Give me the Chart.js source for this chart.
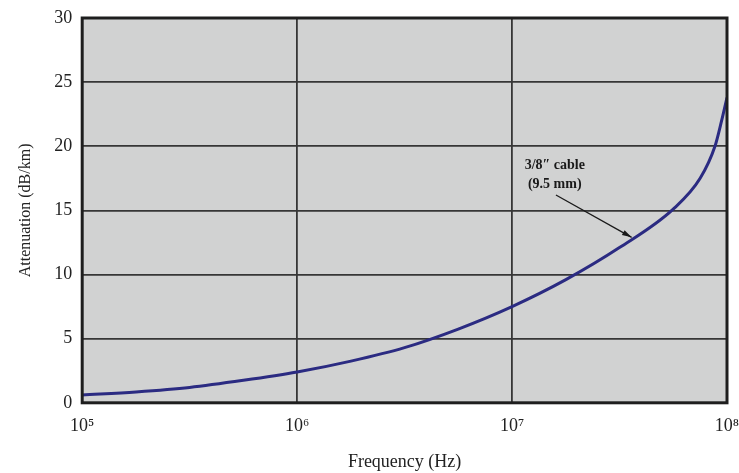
<!DOCTYPE html>
<html>
<head>
<meta charset="utf-8">
<script src="https://cdn.jsdelivr.net/npm/chart.js@4.4.1/dist/chart.umd.min.js"></script>
<style>
  html, body { margin: 0; padding: 0; background: #fff; }
  #wrap { width: 739px; height: 473px; }
</style>
</head>
<body>
<div id="wrap"><canvas id="canvasid"></canvas></div>
<script>
// curve: frequency (Hz) and attenuation (dB/km)
const freq = [1e5, 1.78e5, 3.16e5, 5.62e5, 1e6, 1.78e6, 3.16e6, 5.62e6, 1e7, 1.78e7, 3.16e7, 5.62e7, 7.5e7, 8.79e7, 9.44e7, 1e8];
const atten = [0.6, 0.85, 1.2, 1.75, 2.4, 3.25, 4.3, 5.75, 7.5, 9.6, 12.1, 15.1, 17.5, 20.0, 22.0, 23.8];

const xTicks = [1e5, 1e6, 1e7, 1e8];
const xTickLabels = ["10⁵", "10⁶", "10⁷", "10⁸"];
const yTicks = [0, 5, 10, 15, 20, 25, 30];

const labelLines = ["3/8\u2033 cable", "(9.5 mm)"];
const labelAt = { x: 1.58e7, y: [18.5, 17.0] };
const arrowFrom = { x: 1.6e7, y: 16.2 };
const arrowTo = { x: 3.6e7, y: 12.9 };

const serif = "'Liberation Serif', 'DejaVu Serif', serif";

const framePlugin = {
  id: "frame",
  beforeDraw(chart) {
    const { ctx, chartArea: a } = chart;
    ctx.save();
    ctx.fillStyle = "#d1d2d2";
    ctx.fillRect(a.left, a.top, a.right - a.left, a.bottom - a.top);
    ctx.restore();
  },
  afterDraw(chart) {
    const { ctx, chartArea: a, scales } = chart;
    ctx.save();
    ctx.strokeStyle = "#1e1e1e";
    ctx.lineWidth = 3;
    ctx.strokeRect(a.left, a.top, a.right - a.left, a.bottom - a.top);

    // annotation
    ctx.fillStyle = "#1a1a1a";
    ctx.font = "bold 14px " + serif;
    ctx.textAlign = "center";
    ctx.textBaseline = "middle";
    const lx = scales.x.getPixelForValue(labelAt.x);
    labelLines.forEach((t, i) => ctx.fillText(t, lx, scales.y.getPixelForValue(labelAt.y[i])));

    const x0 = scales.x.getPixelForValue(arrowFrom.x), y0 = scales.y.getPixelForValue(arrowFrom.y);
    const x1 = scales.x.getPixelForValue(arrowTo.x), y1 = scales.y.getPixelForValue(arrowTo.y);
    ctx.strokeStyle = "#1a1a1a";
    ctx.lineWidth = 1.3;
    ctx.beginPath();
    ctx.moveTo(x0, y0);
    ctx.lineTo(x1, y1);
    ctx.stroke();
    const ang = Math.atan2(y1 - y0, x1 - x0);
    ctx.beginPath();
    ctx.moveTo(x1, y1);
    ctx.lineTo(x1 - 10 * Math.cos(ang - 0.28), y1 - 10 * Math.sin(ang - 0.28));
    ctx.lineTo(x1 - 10 * Math.cos(ang + 0.28), y1 - 10 * Math.sin(ang + 0.28));
    ctx.closePath();
    ctx.fill();
    ctx.restore();
  }
};

new Chart(document.getElementById("canvasid"), {
  type: "scatter",
  data: {
    datasets: [{
      data: freq.map((f, i) => ({ x: f, y: atten[i] })),
      showLine: true,
      borderColor: "#2b2b82",
      borderWidth: 3,
      pointRadius: 0,
      cubicInterpolationMode: "monotone"
    }]
  },
  options: {
    responsive: true,
    maintainAspectRatio: false,
    animation: false,
    layout: { padding: { top: 18, right: 12, left: 16, bottom: 0 } },
    plugins: { legend: { display: false }, tooltip: { enabled: false } },
    scales: {
      x: {
        type: "logarithmic",
        min: 1e5,
        max: 1e8,
        afterBuildTicks: s => { s.ticks = xTicks.map(v => ({ value: v })); },
        afterFit: s => { s.paddingRight = 0; s.paddingLeft = 0; },
        ticks: {
          autoSkip: false,
          maxRotation: 0,
          padding: 13,
          color: "#222",
          font: { family: serif, size: 18 },
          callback: v => xTickLabels[xTicks.indexOf(v)] ?? ""
        },
        grid: { color: "#363636", lineWidth: 1.8, drawTicks: false },
        border: { display: false },
        title: {
          display: true,
          text: "Frequency (Hz)",
          color: "#222",
          font: { family: serif, size: 18 },
          padding: { top: 1, bottom: 0 }
        }
      },
      y: {
        min: 0,
        max: 30,
        afterBuildTicks: s => { s.ticks = yTicks.map(v => ({ value: v })); },
        afterFit: s => { s.paddingTop = 0; s.paddingBottom = 0; },
        ticks: {
          padding: 10,
          color: "#222",
          font: { family: serif, size: 18 }
        },
        grid: { color: "#363636", lineWidth: 1.8, drawTicks: false },
        border: { display: false },
        title: {
          display: true,
          text: "Attenuation (dB/km)",
          color: "#222",
          font: { family: serif, size: 16 },
          padding: { top: 0, bottom: 9 }
        }
      }
    }
  },
  plugins: [framePlugin]
});
</script>
</body>
</html>
